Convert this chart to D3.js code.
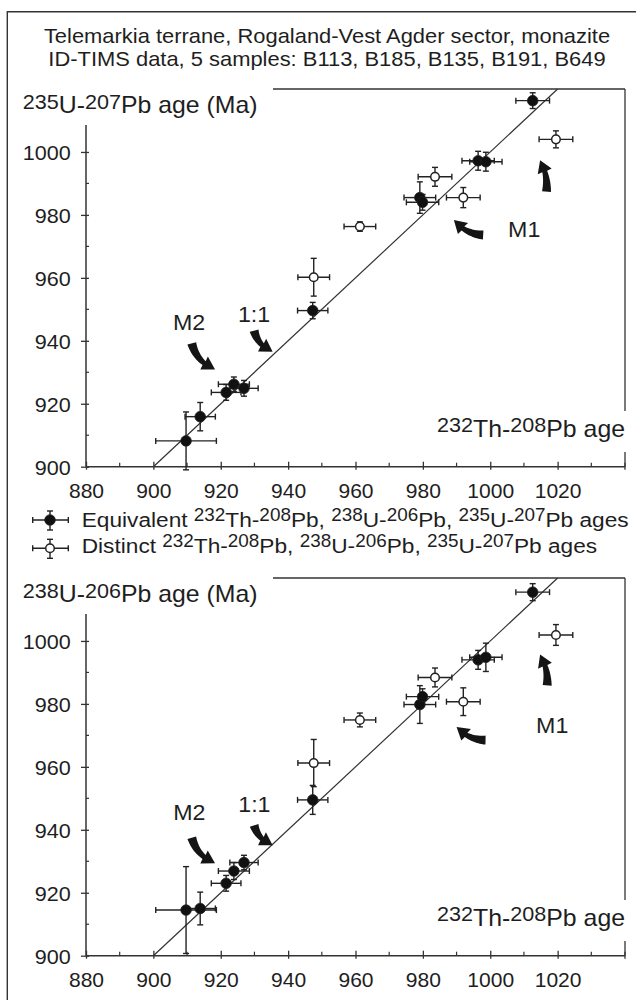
<!DOCTYPE html>
<html>
<head>
<meta charset="utf-8">
<script src="https://cdn.jsdelivr.net/npm/d3@7"></script>
<style>
  body { margin: 0; background: #fff; }
  svg text { font-family: "Liberation Sans", Arial, sans-serif; fill: #1e1e1e; }
</style>
</head>
<body>
<div id="chartContainer"></div>
<script>
// 232Th-208Pb ages (x), shared by both panels
var eqTh      = [909.7, 913.9, 921.6, 923.9, 926.9, 947.3, 979.1, 979.9, 996.4, 998.7, 1012.6];
var eqThErr   = [9, 4.5, 4.4, 4.6, 4.2, 4.5, 4.7, 4.8, 4.8, 4.8, 5];
var eqU235    = [908.2, 915.9, 923.6, 926.2, 924.9, 949.6, 985.5, 984.0, 997.2, 996.9, 1016.3];
var eqU235Err = [9.2, 4.5, 2.5, 2.3, 2.5, 2.6, 5, 2.5, 3, 3, 2.5];
var eqU238    = [914.5, 915.0, 923.0, 926.9, 929.6, 949.5, 979.8, 982.3, 994.0, 994.8, 1015.5];
var eqU238Err = [13.8, 5.2, 2.5, 2.7, 2.3, 4.6, 6, 2.5, 3, 4.5, 2.7];

var diTh      = [947.6, 961.3, 983.6, 992.0, 1019.5];
var diThErr   = [4.7, 4.7, 5, 5, 5];
var diU235    = [960.2, 976.3, 992.1, 985.5, 1004.0];
var diU235Err = [6, 1.5, 3, 3.2, 2.7];
var diU238    = [961.2, 974.9, 988.4, 980.7, 1001.9];
var diU238Err = [7.5, 2.2, 3, 4.4, 3.3];

var xMajor = [880, 900, 920, 940, 960, 980, 1000, 1020];
var xMinor = [890, 910, 930, 950, 970, 990, 1010, 1030];
var yMajor = [900, 920, 940, 960, 980, 1000];
var yMinor = [910, 930, 950, 970, 990];

var titleLines = ["Telemarkia terrane, Rogaland-Vest Agder sector, monazite",
                  "ID-TIMS data, 5 samples: B113, B185, B135, B191, B649"];
var yTitles = ["^235U-^207Pb age (Ma)", "^238U-^206Pb age (Ma)"];
var xTitle = "^232Th-^208Pb age";
var legendLabels = ["Equivalent ^232Th-^208Pb, ^238U-^206Pb, ^235U-^207Pb ages",
                    "Distinct ^232Th-^208Pb, ^238U-^206Pb, ^235U-^207Pb ages"];

// annotations in age units: [tail Th, tail U, tip Th, tip U, bend]
var arrowsTop = [[911.4, 939.2, 918.3, 930.9, 0.25], [929.9, 943.2, 935.4, 936.5, 0.25],
                 [997.9, 973.6, 989.2, 978.4, -0.22], [1016.7, 987.4, 1014.8, 997.4, 0.15]];
var arrowsBot = [[911.4, 937.5, 918.3, 929.4, 0.25], [929.9, 941.4, 935.4, 935.1, 0.25],
                 [998.6, 968.5, 990.0, 972.7, -0.22], [1016.9, 985.9, 1014.8, 995.7, 0.15]];
var notesTop = [["M2", 905.8, 943.4], ["1:1", 925.1, 946.1], ["M1", 1005.3, 973.1]];
var notesBot = [["M2", 905.9, 943.0], ["1:1", 925.2, 945.6], ["M1", 1013.6, 970.9]];

var SX = 1.08;       // the figure is a little stretched sideways
var ink = "#222";
var width = 636, height = 1003;
var svg = d3.select("#chartContainer").append("svg")
    .attr("width", width).attr("height", height);
svg.append("rect").attr("width", width).attr("height", height).attr("fill", "#fff");

// text with ^superscripts
function addText(parent, x, y, str, size, supSize, raise, anchor) {
    var t = parent.append("text")
        .attr("transform", "translate(" + x + "," + y + ") scale(" + SX + ",1)")
        .attr("text-anchor", anchor || "start")
        .style("font-size", size + "px");
    var up = false;
    str.split(/(\^\d+)/).forEach(function (tok) {
        if (!tok) return;
        var ts = t.append("tspan");
        if (tok[0] === "^") {
            ts.text(tok.slice(1)).style("font-size", supSize + "px").attr("dy", up ? 0 : -raise);
            up = true;
        } else {
            ts.text(tok).attr("dy", up ? raise : 0);
            up = false;
        }
    });
    return t;
}

function arrowPath(p0, p1, bend) {
    var dx = p1[0] - p0[0], dy = p1[1] - p0[1], L = Math.hypot(dx, dy);
    var nx = -dy / L, ny = dx / L;
    var c = [(p0[0] + p1[0]) / 2 + nx * bend * L, (p0[1] + p1[1]) / 2 + ny * bend * L];
    function bez(t) {
        var a = (1 - t) * (1 - t), b = 2 * (1 - t) * t, d = t * t;
        return [a * p0[0] + b * c[0] + d * p1[0], a * p0[1] + b * c[1] + d * p1[1]];
    }
    function tan(t) {
        var tx = 2 * (1 - t) * (c[0] - p0[0]) + 2 * t * (p1[0] - c[0]);
        var ty = 2 * (1 - t) * (c[1] - p0[1]) + 2 * t * (p1[1] - c[1]);
        var l = Math.hypot(tx, ty);
        return [tx / l, ty / l];
    }
    var headLen = 12, headW = 15, wTail = 9, wNeck = 5, N = 16;
    var tEnd = 1 - headLen / L;
    var left = [], right = [];
    for (var i = 0; i <= N; i++) {
        var t = tEnd * i / N, p = bez(t), tg = tan(t);
        var w = (wTail + (wNeck - wTail) * i / N) / 2;
        left.push([p[0] - tg[1] * w, p[1] + tg[0] * w]);
        right.push([p[0] + tg[1] * w, p[1] - tg[0] * w]);
    }
    var b = bez(tEnd), hx = p1[0] - b[0], hy = p1[1] - b[1], hl = Math.hypot(hx, hy);
    hx /= hl; hy /= hl;
    var pts = left.concat([[b[0] - hy * headW / 2, b[1] + hx * headW / 2], p1,
                           [b[0] + hy * headW / 2, b[1] - hx * headW / 2]], right.reverse());
    return d3.line()(pts) + "Z";
}

function drawPoints(g, x, y, xs, xe, ys, ye, open) {
    var cap = 3;
    var pts = xs.map(function (v, i) { return { x: v, xe: xe[i], y: ys[i], ye: ye[i] }; });
    var eb = g.append("g").attr("stroke", ink).attr("stroke-width", 1.4);
    pts.forEach(function (d) {
        var cx = x(d.x), cy = y(d.y);
        var x0 = x(d.x - d.xe), x1 = x(d.x + d.xe), y0 = y(d.y - d.ye), y1 = y(d.y + d.ye);
        eb.append("line").attr("x1", x0).attr("x2", x1).attr("y1", cy).attr("y2", cy);
        eb.append("line").attr("x1", cx).attr("x2", cx).attr("y1", y0).attr("y2", y1);
        eb.append("line").attr("x1", x0).attr("x2", x0).attr("y1", cy - cap).attr("y2", cy + cap);
        eb.append("line").attr("x1", x1).attr("x2", x1).attr("y1", cy - cap).attr("y2", cy + cap);
        eb.append("line").attr("x1", cx - cap).attr("x2", cx + cap).attr("y1", y0).attr("y2", y0);
        eb.append("line").attr("x1", cx - cap).attr("x2", cx + cap).attr("y1", y1).attr("y2", y1);
    });
    g.append("g").selectAll("circle").data(pts).enter().append("circle")
        .attr("cx", function (d) { return x(d.x); })
        .attr("cy", function (d) { return y(d.y); })
        .attr("r", open ? 4.3 : 5.3)
        .attr("fill", open ? "#fff" : "#111")
        .attr("stroke", ink).attr("stroke-width", open ? 1.5 : 0.8);
}

function drawPanel(off, yTitle, eqU, eqUErr, diU, diUErr, arrows, notes) {
    var g = svg.append("g").attr("transform", "translate(0," + off + ")");
    var x = d3.scaleLinear().domain([880, 1040]).range([86, 625]);
    var y = d3.scaleLinear().domain([900, 1020]).range([466.7, 89]);

    // frame round the plot, broken by the axis titles
    var frame = g.append("g").attr("stroke", "#333").attr("stroke-width", 1.3).attr("fill", "none");
    frame.append("line").attr("x1", 273).attr("x2", x(1040)).attr("y1", y(1020)).attr("y2", y(1020));
    frame.append("line").attr("x1", x(1040)).attr("x2", x(1040)).attr("y1", y(1020)).attr("y2", 411);
    frame.append("line").attr("x1", x(1040)).attr("x2", x(1040)).attr("y1", 452).attr("y2", y(900) + 3);

    // axes
    var xAxis = g.append("g").attr("transform", "translate(0," + y(900) + ")")
        .call(d3.axisBottom(x).tickValues(xMajor).tickSize(3).tickFormat(d3.format("d")));
    xAxis.select(".domain").remove();
    xAxis.selectAll(".tick line").attr("y1", -5).attr("stroke", "#333").attr("stroke-width", 1.3);
    xAxis.selectAll(".tick text").attr("y", null).attr("dy", null)
        .attr("transform", "translate(0,31) scale(" + SX + ",1)")
        .style("font-size", "19.5px").attr("fill", "#1e1e1e");
    xAxis.append("line").attr("x1", x(880)).attr("x2", x(1040)).attr("stroke", "#333").attr("stroke-width", 1.5);
    xAxis.selectAll(".minor").data(xMinor.concat([1040])).enter().append("line")
        .attr("x1", function (d) { return x(d); }).attr("x2", function (d) { return x(d); })
        .attr("y1", -4).attr("y2", 0).attr("stroke", "#333").attr("stroke-width", 1.2);

    var yAxis = g.append("g").attr("transform", "translate(" + x(880) + ",0)")
        .call(d3.axisLeft(y).tickValues(yMajor).tickSize(5).tickFormat(d3.format("d")));
    yAxis.select(".domain").remove();
    yAxis.selectAll(".tick line").attr("x2", -5).attr("x1", 3).attr("stroke", "#333").attr("stroke-width", 1.3);
    yAxis.selectAll(".tick text").attr("x", null).attr("dy", null)
        .attr("transform", "translate(-15.3,7.3) scale(" + SX + ",1)")
        .style("font-size", "20px").attr("fill", "#1e1e1e");
    yAxis.append("line").attr("y1", y(900)).attr("y2", y(1008.6)).attr("stroke", "#333").attr("stroke-width", 1.5);
    yAxis.selectAll(".minor").data(yMinor).enter().append("line")
        .attr("y1", function (d) { return y(d); }).attr("y2", function (d) { return y(d); })
        .attr("x1", 0).attr("x2", 3).attr("stroke", "#333").attr("stroke-width", 1.2);

    g.selectAll(".tick text").style("font-family", "'Liberation Sans', Arial, sans-serif");

    addText(g, 22.7, 113.3, yTitle, 23, 20, 4.8, "start");
    addText(g, x(1040), 436.7, xTitle, 23, 20, 5, "end");

    // 1:1 line
    g.append("line").attr("x1", x(900)).attr("y1", y(900)).attr("x2", x(1020)).attr("y2", y(1020))
        .attr("stroke", "#333").attr("stroke-width", 1.2);

    drawPoints(g, x, y, diTh, diThErr, diU, diUErr, true);
    drawPoints(g, x, y, eqTh, eqThErr, eqU, eqUErr, false);

    g.selectAll(".arrow").data(arrows).enter().append("path")
        .attr("class", "arrow")
        .attr("d", function (a) { return arrowPath([x(a[0]), y(a[1])], [x(a[2]), y(a[3])], a[4]); })
        .attr("fill", "#151515");
    notes.forEach(function (n) { addText(g, x(n[1]), y(n[2]), n[0], 21.5, 21.5, 0, "start"); });
}

// outer border (left and top edges are visible)
svg.append("path").attr("d", "M7.3,1000 V11.7 H636").attr("fill", "none")
    .attr("stroke", "#333").attr("stroke-width", 1.4);

addText(svg, 327, 42.7, titleLines[0], 20.3, 20.3, 0, "middle");
addText(svg, 327, 66, titleLines[1], 20.3, 20.3, 0, "middle");

drawPanel(0, yTitles[0], eqU235, eqU235Err, diU235, diU235Err, arrowsTop, notesTop);
drawPanel(489, yTitles[1], eqU238, eqU238Err, diU238, diU238Err, arrowsBot, notesBot);

// legend
var legend = svg.append("g");
[520, 548.3].forEach(function (cy, i) {
    var s = legend.append("g").attr("stroke", ink).attr("stroke-width", 1.4);
    s.append("line").attr("x1", 32.7).attr("x2", 68.3).attr("y1", cy).attr("y2", cy);
    s.append("line").attr("x1", 50).attr("x2", 50).attr("y1", cy - 9).attr("y2", cy + 10);
    s.append("line").attr("x1", 32.7).attr("x2", 32.7).attr("y1", cy - 3).attr("y2", cy + 3);
    s.append("line").attr("x1", 68.3).attr("x2", 68.3).attr("y1", cy - 3).attr("y2", cy + 3);
    s.append("line").attr("x1", 47).attr("x2", 53).attr("y1", cy - 9).attr("y2", cy - 9);
    s.append("line").attr("x1", 47).attr("x2", 53).attr("y1", cy + 10).attr("y2", cy + 10);
    s.append("circle").attr("cx", 50).attr("cy", cy).attr("r", i === 0 ? 5.3 : 4.3)
        .attr("fill", i === 0 ? "#111" : "#fff").attr("stroke-width", i === 0 ? 0.8 : 1.5);
    addText(legend, 81.7, [526.7, 552.5][i], legendLabels[i], 21, 17.5, 5.5, "start");
});
</script>
</body>
</html>
